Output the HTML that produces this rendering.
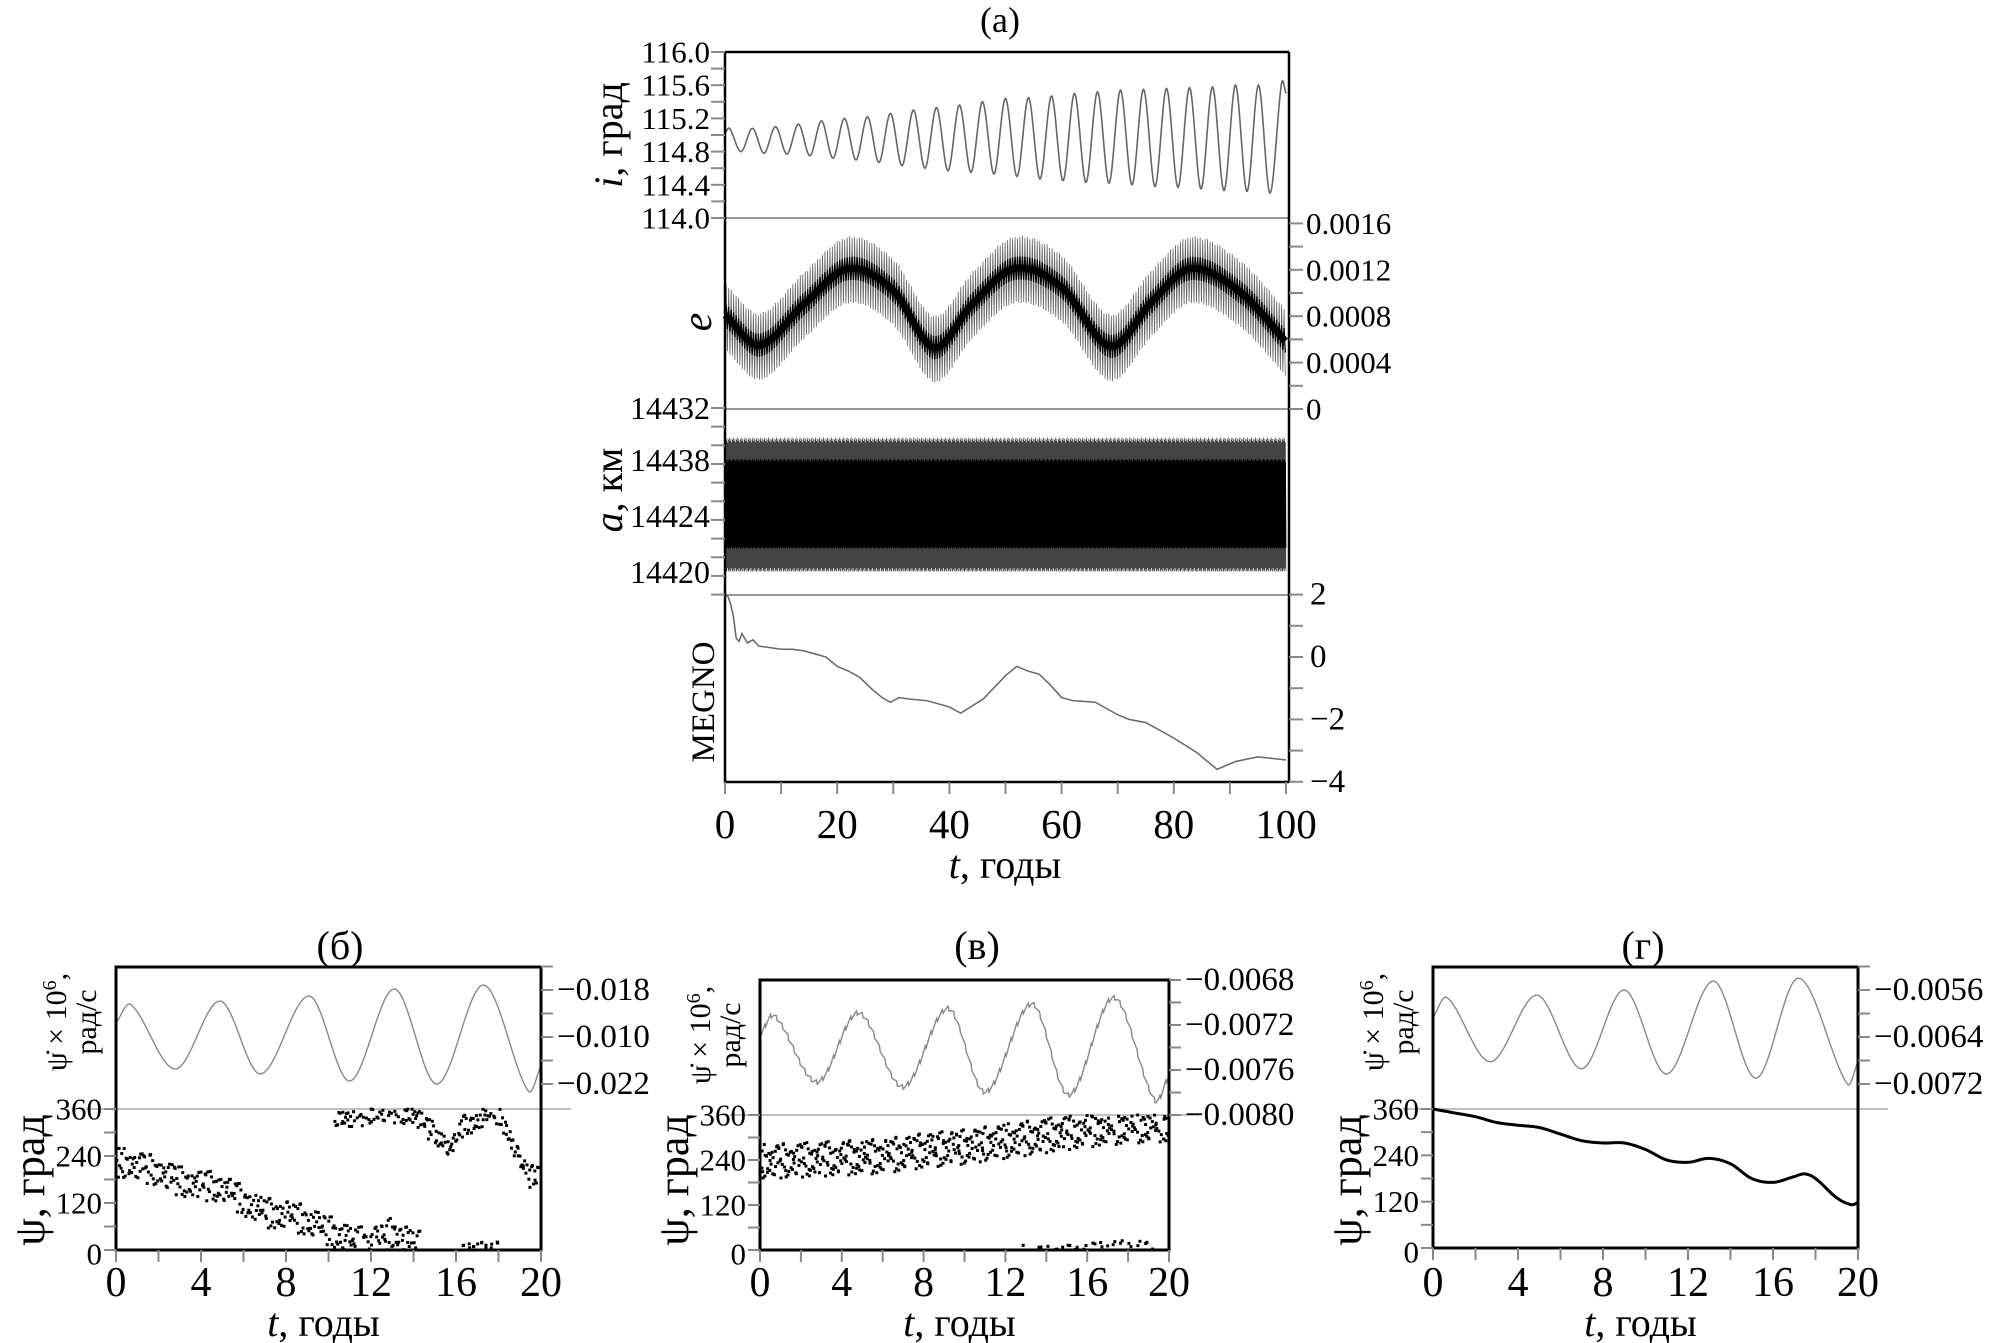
<!DOCTYPE html>
<html><head><meta charset="utf-8"><style>
html,body{margin:0;padding:0;background:#fff;}
svg{display:block;font-family:"Liberation Serif",serif;}
</style></head><body>
<svg id="fig" width="1989" height="1343" viewBox="0 0 1989 1343" xmlns="http://www.w3.org/2000/svg">
<rect x="0" y="0" width="1989" height="1343" fill="#fff"/>
<text x="1000" y="32" font-size="36" text-anchor="middle">(a)</text>
<text transform="translate(622,135) rotate(-90)" font-size="40" text-anchor="middle"><tspan font-style="italic">i</tspan>, град</text>
<text transform="translate(711,322) rotate(-90)" font-size="42" font-style="italic" text-anchor="middle">e</text>
<text transform="translate(622,490) rotate(-90)" font-size="40" text-anchor="middle"><tspan font-style="italic">a</tspan>, км</text>
<text transform="translate(714,702) rotate(-90)" font-size="33" text-anchor="middle">MEGNO</text>
<text x="1005" y="878" font-size="40" text-anchor="middle"><tspan font-style="italic">t</tspan>, годы</text>
<text x="340" y="959" font-size="40" text-anchor="middle">(б)</text>
<text x="977" y="959" font-size="40" text-anchor="middle">(в)</text>
<text x="1643" y="959" font-size="40" text-anchor="middle">(г)</text>
<g id="topchart"></g>
<g id="pb"></g>
<g id="pv"></g>
<g id="pg"></g>
</svg>
<script>
const iPeakVals = [115.08,115.08,115.1,115.13,115.17,115.2,115.22,115.26,115.3,115.33,115.36,115.4,115.44,115.45,115.47,115.5,115.52,115.54,115.55,115.56,115.57,115.58,115.6,115.6,115.62];
const iTroughVals = [114.8,114.78,114.77,114.75,114.72,114.7,114.67,114.63,114.6,114.57,114.55,114.53,114.5,114.47,114.45,114.43,114.42,114.4,114.38,114.37,114.35,114.33,114.32,114.3];
const iStart = 115.02;
const iEnd = 115.5;
const iPeriod = 4.1;
const iFirstPeak = 0.8;
const iFirstTrough = 2.85;
const iTickLabels = ["116.0","115.6","115.2","114.8","114.4","114.0"];
const iTickVals = [116.0,115.6,115.2,114.8,114.4,114.0];

const eTimes = [0,6.2,14,22,30,37.3,44,51.6,60,68.7,76,83,92,100];
const eCenter = [0.00081,0.00055,0.0009,0.00121,0.00102,0.00053,0.0009,0.00121,0.00105,0.00054,0.00092,0.00121,0.001,0.00058];
const eOuterAmp = 0.0003;
const eCoreAmp = 0.0001;
const eTickVals = [0.0016,0.0012,0.0008,0.0004,0];
const eTickLabels = ["0.0016","0.0012","0.0008","0.0004","0"];

const aMean = 14425.9;
const aHalf = 4.5;
const aCoreHalf = 3.0;
const aAmpPattern = [1,0.93,0.97,0.88,1,0.91,0.95,0.86,0.99,0.9];
const aTickVals = [14432,14428.63,14425.0,14421.36];
const aTickLabels = ["14432","14438","14424","14420"];

const mTimes = [0,0.5,1,1.5,2,2.5,3,4,5,6,8,10,12,14,16,18,20,22,24,26,28,29.5,31,33,36,40,42,46,50,52,54,56,58,60,62,66,70,72,75,80,84,87.7,91,95,100];
const mVals = [2.0,1.95,1.7,1.3,0.6,0.5,0.75,0.45,0.55,0.35,0.3,0.25,0.25,0.2,0.1,0.0,-0.3,-0.45,-0.65,-1.0,-1.3,-1.45,-1.3,-1.35,-1.4,-1.6,-1.8,-1.35,-0.6,-0.3,-0.45,-0.55,-0.9,-1.3,-1.4,-1.45,-1.85,-2.0,-2.1,-2.6,-3.05,-3.6,-3.35,-3.2,-3.3];
const mTickVals = [2,0,-2,-4];
const mTickLabels = ["2","0","\u22122","\u22124"];
const topXTicks = [0,20,40,60,80,100];

const bDotT = [0,0.7,2.8,4.9,6.8,9.1,11,13.1,15.1,17.3,19.4,20];
const bDotV = [-0.0194,-0.01862,-0.02136,-0.01847,-0.02157,-0.01826,-0.02187,-0.01796,-0.022,-0.01779,-0.0223,-0.02123];
const bRightTickVals = [-0.018,-0.020,-0.022];
const bRightTickLabels = ["\u22120.018","\u22120.010","\u22120.022"];
const bPsiBranch1T = [0,1,2,3,4,5,6,7,8,9,10,11,12,13,14,14.3];
const bPsiBranch1V = [225,215,200,175,165,160,125,95,90,75,50,25,18,45,15,10];
const bPsiBranch2T = [10.2,11,12,13,14,14.7,15.3,15.8,16.3,17,17.6,18,18.5,19,19.5,20];
const bPsiBranch2V = [345,335,350,352,345,310,285,255,315,330,345,350,295,225,185,205];
const bPsiBranch3T = [16.3,17,18];
const bPsiBranch3V = [8,15,12];

const vDotT = [0,0.7,2.8,4.8,7.0,9.2,11,13.3,15.1,17.3,19.3,20];
const vDotV = [-0.007295,-0.007118,-0.007707,-0.007093,-0.007751,-0.007054,-0.007796,-0.007013,-0.007822,-0.006957,-0.007867,-0.007645];
const vRipple = 0.00004;
const vRightTickVals = [-0.0068,-0.0072,-0.0076,-0.0080];
const vRightTickLabels = ["\u22120.0068","\u22120.0072","\u22120.0076","\u22120.0080"];
const vPsiBranch1T = [0,2,4,6,8,10,12,14,16,18,20];
const vPsiBranch1V = [235,240,245,250,265,275,290,305,320,330,335];
const vPsiBranch2T = [12.8,14,16,17,18,19.2];
const vPsiBranch2V = [3,5,10,12,20,8];

const gDotT = [0,0.66,2.7,4.9,7,9,11,13.2,15.2,17.2,19.5,20];
const gDotV = [-0.00607,-0.00573,-0.00682,-0.00569,-0.00694,-0.0056,-0.00703,-0.00545,-0.0071,-0.0054,-0.0072,-0.00682];
const gRightTickVals = [-0.0056,-0.0064,-0.0072];
const gRightTickLabels = ["\u22120.0056","\u22120.0064","\u22120.0072"];
const gPsiT = [0,1,2,3,4,5,6,7,8,9,10,11,12,13,14,15,16,17,17.5,18,19,19.7,20];
const gPsiV = [360,350,340,325,318,312,295,278,272,272,255,228,222,232,218,180,170,185,192,180,130,112,118];

const psiTicks = [0,120,240,360];
const psiTickLabels = ["0","120","240","360"];
const botXTicks = [0,4,8,12,16,20];
const jitter = [0.1,-0.8,0.5,-0.3,0.9,-0.6,0.2,0.7,-0.9,0.4,-0.1,0.6,-0.5,0.8,-0.2,0.3,-0.7,0.0,0.95,-0.4,0.55,-0.95,0.35,-0.15,0.75,-0.55,0.05,0.85,-0.35,0.45,-0.75];
const jitterT = [0.02,-0.03,0.04,-0.01,0.03,-0.04,0.0,0.035,-0.025,0.015,-0.045];

const NS = 'http://www.w3.org/2000/svg';
function el(tag, parent, attrs){
  const e = document.createElementNS(NS, tag);
  for (const k in attrs) e.setAttribute(k, attrs[k]);
  parent.appendChild(e);
  return e;
}
function slope(ts, vs, k){
  const n = ts.length;
  if (k <= 0) return (vs[1]-vs[0])/(ts[1]-ts[0]);
  if (k >= n-1) return (vs[n-1]-vs[n-2])/(ts[n-1]-ts[n-2]);
  return (vs[k+1]-vs[k-1])/(ts[k+1]-ts[k-1]);
}
function smooth(ts, vs, t){
  let i = 0;
  while (i < ts.length-2 && t > ts[i+1]) i++;
  const t0 = ts[i], t1 = ts[i+1], h = t1 - t0, u = Math.max(0, Math.min(1, (t - t0)/h));
  const u2 = u*u, u3 = u2*u;
  return (2*u3-3*u2+1)*vs[i] + (u3-2*u2+u)*h*slope(ts,vs,i) + (-2*u3+3*u2)*vs[i+1] + (u3-u2)*h*slope(ts,vs,i+1);
}
function linear(ts, vs, t){
  let i = 0;
  while (i < ts.length-2 && t > ts[i+1]) i++;
  const u = Math.max(0, Math.min(1, (t - ts[i])/(ts[i+1]-ts[i])));
  return vs[i] + (vs[i+1]-vs[i])*u;
}
function pathFrom(pts){
  return 'M' + pts.map(p => p[0].toFixed(2) + ',' + p[1].toFixed(2)).join('L');
}

const topG = document.getElementById('topchart');
const X0 = 725, X1 = 1286;
const xT = t => X0 + (X1 - X0) * t / 100;
const yI = v => 52 + (116 - v) * 83;
const yE = v => 409 - v * 116000;
const yA = v => 408 + (14432 - v) * 15.42;
const yM = v => 657 - v * 31.2;

[218, 409, 595].forEach(y => {
  const s = el('line', topG, {x1: X0, x2: 1289, y1: y, y2: y, stroke: '#999', 'stroke-width': 2});
  
  
});

const iT = [0], iV = [iStart];
for (let k = 0; k < iPeakVals.length; k++) {
  iT.push(iFirstPeak + k * iPeriod); iV.push(iPeakVals[k]);
  if (k < iTroughVals.length) { iT.push(iFirstTrough + k * iPeriod); iV.push(iTroughVals[k]); }
}
iT.push(100); iV.push(iEnd);
{
  const pts = [];
  for (let t = 0; t <= 100; t += 0.1) pts.push([xT(t), yI(smooth(iT, iV, t))]);
  const p = el('path', topG, {d: pathFrom(pts), fill: 'none', stroke: '#666', 'stroke-width': 1.6});
  
  
}

{
  const outer = [], core = [], mid = [];
  let k = 0;
  for (let t = 0; t <= 100.001; t += 0.22, k++) {
    const c = smooth(eTimes, eCenter, t);
    const s = (k % 2 ? 1 : -1);
    const amp = aAmpPattern[k % aAmpPattern.length];
    outer.push([xT(t), yE(c + s * eOuterAmp * amp)]);
    core.push([xT(t), yE(c + s * eCoreAmp)]);
    mid.push([xT(t), yE(c)]);
  }
  const p1 = el('path', topG, {d: pathFrom(outer), fill: 'none', stroke: '#666', 'stroke-width': 0.8});
  
  
  const p2 = el('path', topG, {d: pathFrom(core), fill: 'none', stroke: '#000', 'stroke-width': 1.3});
  
  
  const p3 = el('path', topG, {d: pathFrom(mid), fill: 'none', stroke: '#000', 'stroke-width': 7});
  
  
}

{
  const outer = [], core = [];
  let k = 0;
  for (let t = 0; t <= 100.001; t += 0.07, k++) {
    const s = (k % 2 ? 1 : -1);
    const amp = aAmpPattern[k % aAmpPattern.length];
    outer.push([xT(t), yA(aMean + s * aHalf * amp)]);
    core.push([xT(t), yA(aMean + s * aCoreHalf * amp)]);
  }
  const p1 = el('path', topG, {d: pathFrom(outer), fill: 'none', stroke: '#444', 'stroke-width': 0.8});
  
  
  const p2 = el('path', topG, {d: pathFrom(core), fill: 'none', stroke: '#000', 'stroke-width': 1.1});
  
  
}

{
  const pts = mTimes.map((t, i) => [xT(t), yM(mVals[i])]);
  const p = el('path', topG, {d: pathFrom(pts), fill: 'none', stroke: '#666', 'stroke-width': 1.5});
  
  
}

{
  const f1 = el('line', topG, {x1: X0, x2: X0, y1: 52, y2: 783, stroke: '#000', 'stroke-width': 2.5});
  
  
  const f2 = el('line', topG, {x1: 1289, x2: 1289, y1: 52, y2: 783, stroke: '#000', 'stroke-width': 2.5});
  
  
  const f3 = el('line', topG, {x1: X0, x2: 1289, y1: 52, y2: 52, stroke: '#000', 'stroke-width': 2.5});
  
  
  const f4 = el('line', topG, {x1: X0, x2: 1289, y1: 782, y2: 782, stroke: '#000', 'stroke-width': 2.5});
  
  
}

function tickLine(g, x1, y1, x2, y2, name){
  const t = el('line', g, {x1, y1, x2, y2, stroke: '#888', 'stroke-width': 2});
  
  
}
function label(g, x, y, txt, size, anchor, name){
  const t = el('text', g, {x, y, 'font-size': size, 'text-anchor': anchor, 'dominant-baseline': 'central'});
  t.textContent = txt;
  
  
  return t;
}
for (let v = 114.0; v <= 116.001; v += 0.2) tickLine(topG, X0 - 14, yI(v), X0, yI(v), 'i-axis-tick');
iTickVals.forEach((v, i) => label(topG, 710, yI(v), iTickLabels[i], 31, 'end', 'i-tick-label'));
for (let v = 0; v <= 0.00161; v += 0.0002) tickLine(topG, 1289, yE(v), 1303, yE(v), 'e-axis-tick');
eTickVals.forEach((v, i) => label(topG, 1306, yE(v), eTickLabels[i], 31, 'start', 'e-tick-label'));
for (let k = 0; k <= 10; k++) tickLine(topG, X0 - 14, yA(14432 - k * 1.21), X0, yA(14432 - k * 1.21), 'a-axis-tick');
aTickVals.forEach((v, i) => label(topG, 710, yA(v), aTickLabels[i], 32, 'end', 'a-tick-label'));
for (let v = -4; v <= 2; v += 1) tickLine(topG, 1289, yM(v), 1303, yM(v), 'megno-axis-tick');
mTickVals.forEach((v, i) => label(topG, 1310, yM(v), mTickLabels[i], 33, 'start', 'megno-tick-label'));
for (let t = 0; t <= 100; t += 10) tickLine(topG, xT(t), 782, xT(t), 794, 'top-x-tick');
topXTicks.forEach(t => label(topG, xT(t), 824, String(t), 41, 'middle', 'top-x-tick-label'));

function drawPanel(g, cfg){
  const xS = t => cfg.x0 + (cfg.x1 - cfg.x0) * t / 20;
  const yPsi = v => cfg.bot - (cfg.bot - cfg.sep) * v / 360;
  const yDot = v => cfg.r0y + (v - cfg.r0v) / cfg.rStepV * cfg.rStepPx;

  const s = el('line', g, {x1: cfg.x0 - 30, x2: cfg.x1 + 30, y1: cfg.sep, y2: cfg.sep, stroke: '#aaa', 'stroke-width': 1.5});
  
  

  const pts = [];
  let k = 0;
  for (let t = 0; t <= 20.0001; t += 0.04, k++) {
    let v = smooth(cfg.dotT, cfg.dotV, t);
    if (cfg.ripple) v += ((k % 7) / 6 - 0.5) * cfg.ripple;
    pts.push([xS(t), yDot(v)]);
  }
  const p = el('path', g, {d: pathFrom(pts), fill: 'none', stroke: '#888', 'stroke-width': 1.4});
  
  

  if (cfg.psiLine) {
    const lp = [];
    for (let t = 0; t <= 20.0001; t += 0.05) lp.push([xS(t), yPsi(smooth(cfg.psiLine[0], cfg.psiLine[1], t))]);
    const l = el('path', g, {d: pathFrom(lp), fill: 'none', stroke: '#000', 'stroke-width': 3});
    
    
  }
  (cfg.branches || []).forEach(br => {
    const bt = br[0], bv = br[1], spread = br[2], step = br[3];
    let j = br[4];
    for (let t = bt[0]; t <= bt[bt.length - 1]; t += step, j++) {
      const tt = Math.min(20, Math.max(0, t + jitterT[j % jitterT.length] * 2));
      const v = linear(bt, bv, tt) + jitter[(j * 7) % jitter.length] * spread;
      if (v < 0 || v > 360) continue;
      const d = el('rect', g, {x: xS(tt) - 1.5, y: yPsi(v) - 1.5, width: 3, height: 3, fill: '#000'});
      
      
    }
  });

  const f = el('rect', g, {x: cfg.x0, y: cfg.top, width: cfg.x1 - cfg.x0, height: cfg.bot - cfg.top, fill: 'none', stroke: '#000', 'stroke-width': 3});
  
  

  for (let v = 0; v <= 360; v += 60) tickLine(g, cfg.x0 - 12, yPsi(v), cfg.x0, yPsi(v), 'psi-axis-tick');
  psiTicks.forEach((v, i) => label(g, cfg.x0 - 14, yPsi(v) - (v === 0 ? -4 : 0), psiTickLabels[i], 31, 'end', 'psi-tick-label'));
  for (let t = 0; t <= 20; t += 2) tickLine(g, xS(t), cfg.bot, xS(t), cfg.bot + 12, 'x-axis-tick');
  botXTicks.forEach(t => label(g, xS(t), 1283, String(t), 42, 'middle', 'x-tick-label'));
  const half = cfg.rStepV / 2;
  for (let v = cfg.rTop; v >= cfg.rBottom - 1e-9; v += half) tickLine(g, cfg.x1, yDot(v), cfg.x1 + 12, yDot(v), 'psi-dot-axis-tick');
  cfg.rTicks.forEach((v, i) => label(g, cfg.x1 + 16, yDot(v), cfg.rLabels[i], 33, 'start', 'psi-dot-tick-label'));

  const xt = el('text', g, {x: (cfg.x0 + cfg.x1) / 2 - 5, y: 1336, 'font-size': 40, 'text-anchor': 'middle'});
  xt.innerHTML = '<tspan font-style="italic">t</tspan>, годы';
  
  
  const yt = el('text', g, {transform: 'translate(' + (cfg.x0 - 72) + ',1180) rotate(-90)', 'font-size': 44, 'text-anchor': 'middle'});
  yt.textContent = 'ψ, град';
  
  
  const y2 = el('text', g, {transform: 'translate(' + (cfg.x0 - 50) + ',' + (cfg.top + 55) + ') rotate(-90)', 'font-size': 30, 'text-anchor': 'middle'});
  y2.innerHTML = 'ψ̇ × 10<tspan dy="-10" font-size="20">6</tspan><tspan dy="10">,</tspan>';
  
  
  const y3 = el('text', g, {transform: 'translate(' + (cfg.x0 - 20) + ',' + (cfg.top + 55) + ') rotate(-90)', 'font-size': 30, 'text-anchor': 'middle'});
  y3.textContent = 'рад/с';
  
  
}

drawPanel(document.getElementById('pb'), {
  x0: 116, x1: 541, top: 967, sep: 1109, bot: 1250,
  dotT: bDotT, dotV: bDotV, r0y: 990, r0v: -0.018, rStepV: -0.002, rStepPx: 47,
  rTop: -0.017, rBottom: -0.022, rTicks: bRightTickVals, rLabels: bRightTickLabels,
  branches: [[bPsiBranch1T, bPsiBranch1V, 40, 0.045, 0], [bPsiBranch2T, bPsiBranch2V, 28, 0.05, 5], [bPsiBranch3T, bPsiBranch3V, 10, 0.12, 11]]
});
drawPanel(document.getElementById('pv'), {
  x0: 760, x1: 1169, top: 980, sep: 1115, bot: 1250,
  dotT: vDotT, dotV: vDotV, ripple: vRipple, r0y: 980, r0v: -0.0068, rStepV: -0.0004, rStepPx: 45,
  rTop: -0.0068, rBottom: -0.0080, rTicks: vRightTickVals, rLabels: vRightTickLabels,
  branches: [[vPsiBranch1T, vPsiBranch1V, 48, 0.035, 3], [vPsiBranch2T, vPsiBranch2V, 10, 0.2, 7]]
});
drawPanel(document.getElementById('pg'), {
  x0: 1433, x1: 1858, top: 967, sep: 1109, bot: 1248,
  dotT: gDotT, dotV: gDotV, r0y: 990, r0v: -0.0056, rStepV: -0.0008, rStepPx: 47,
  rTop: -0.0052, rBottom: -0.0072, rTicks: gRightTickVals, rLabels: gRightTickLabels,
  psiLine: [gPsiT, gPsiV]
});
</script>
</body></html>
